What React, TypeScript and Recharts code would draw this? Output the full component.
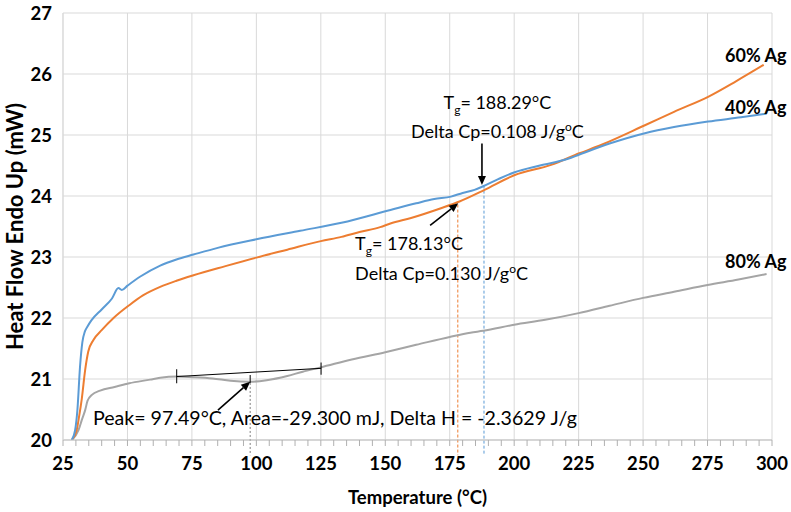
import React from 'react';
import {
  ComposedChart,
  Line,
  XAxis,
  YAxis,
  CartesianGrid,
  ReferenceLine,
  ReferenceDot,
  Label,
} from 'recharts';

const FONT = 'Lato, "Open Sans", sans-serif';

const xTicks = [25, 50, 75, 100, 125, 150, 175, 200, 225, 250, 275, 300];
const xMinorTicks = [
  25, 30, 35, 40, 45, 50, 55, 60, 65, 70, 75, 80, 85, 90, 95, 100, 105, 110, 115, 120, 125,
  130, 135, 140, 145, 150, 155, 160, 165, 170, 175, 180, 185, 190, 195, 200, 205, 210, 215,
  220, 225, 230, 235, 240, 245, 250, 255, 260, 265, 270, 275, 280, 285, 290, 295, 300,
];
const yTicks = [20, 21, 22, 23, 24, 25, 26, 27];

// 40% Ag (blue)
const ag40T = [
  28.4, 29.7, 30.6, 31.6, 32.5, 33.5, 34.5, 36, 40, 44, 46.5, 47.8, 50, 55, 62.7, 69, 75.6, 85,
  100, 117, 133, 152, 162, 169, 175.5, 180, 184.6, 188, 194, 200.2, 210, 220.9, 225.3, 237,
  250.7, 262, 275.2, 288, 297.9,
];
const ag40V = [
  20.0, 20.16, 20.5, 21.2, 21.6, 21.78, 21.86, 21.96, 22.14, 22.32, 22.49, 22.46, 22.53, 22.68,
  22.86, 22.96, 23.04, 23.15, 23.29, 23.43, 23.56, 23.77, 23.88, 23.95, 23.99, 24.05, 24.1,
  24.16, 24.28, 24.39, 24.5, 24.61, 24.68, 24.86, 25.03, 25.13, 25.22, 25.29, 25.35,
];

// 60% Ag (orange)
const ag60T = [
  28.4, 30.3, 31.3, 32.3, 33.6, 34.8, 36.8, 40, 44.6, 50.7, 56, 62.7, 69, 75.6, 88, 100, 112,
  125, 133, 140, 148, 152, 160, 171.6, 178.8, 188.5, 200, 214.3, 225.3, 233.9, 250.7, 262,
  275.4, 286, 296.8,
];
const ag60V = [
  20.0, 20.16, 20.4, 20.68, 21.15, 21.45, 21.64, 21.8, 22.0, 22.21, 22.37, 22.51, 22.61, 22.7,
  22.85, 22.99, 23.12, 23.26, 23.33, 23.41, 23.49, 23.55, 23.64, 23.8, 23.91, 24.1, 24.34,
  24.51, 24.7, 24.84, 25.16, 25.38, 25.63, 25.88, 26.15,
];

// 80% Ag (gray)
const ag80T = [
  28.4, 31, 32.3, 33.6, 34.5, 36.2, 39.4, 45, 50.7, 58.8, 62.7, 69.2, 76, 83, 90, 97.7, 104,
  112, 118, 124.9, 137, 150, 162, 175, 183, 188, 200, 212, 225, 237, 250, 262, 275, 287, 297.9,
];
const ag80V = [
  20.0, 20.16, 20.33, 20.49, 20.64, 20.74, 20.81, 20.87, 20.93, 20.99, 21.02, 21.04, 21.03,
  21.01, 20.97, 20.955, 20.98, 21.05, 21.12, 21.19, 21.32, 21.44, 21.56, 21.69, 21.76, 21.79,
  21.89, 21.97, 22.08, 22.2, 22.33, 22.43, 22.54, 22.63, 22.72,
];

// annotation anchors (data coordinates)
const baselineSeg = [
  { x: 69.1, y: 21.04 },
  { x: 125.1, y: 21.175 },
];
const baselineLeftTick = [
  { x: 69.1, y: 21.16 },
  { x: 69.1, y: 20.93 },
];
const baselineRightTick = [
  { x: 125.1, y: 21.27 },
  { x: 125.1, y: 21.07 },
];
const peakTick = [
  { x: 97.6, y: 21.065 },
  { x: 97.6, y: 20.935 },
];
const peakDrop = [
  { x: 97.6, y: 20.935 },
  { x: 97.6, y: 19.75 },
];
const tg60Drop = [
  { x: 178.13, y: 23.86 },
  { x: 178.13, y: 19.75 },
];
const tg40Drop = [
  { x: 188.29, y: 24.17 },
  { x: 188.29, y: 19.75 },
];
const peakArrow = [
  { x: 85.1, y: 20.49 },
  { x: 97.6, y: 20.956 },
];
const tg40Arrow = [
  { x: 187.5, y: 24.86 },
  { x: 187.5, y: 24.18 },
];
const tg60Arrow = [
  { x: 167.4, y: 23.52 },
  { x: 178.3, y: 23.88 },
];
const peakTextAt = { x: 36.6, y: 20.246 };
const tg40Line1At = { x: 193.5, y: 25.434 };
const tg40Line2At = { x: 193.5, y: 24.95 };
const tg60Line1At = { x: 138.3, y: 23.11 };
const tg60Line2At = { x: 138.3, y: 22.62 };
const seriesLabelX = 281.8;
const label60Y = 26.198;
const label40Y = 25.352;
const label80Y = 22.813;

const zip = (xs: number[], ys: number[]) => xs.map((x, i) => ({ x, y: ys[i] }));
const data40 = zip(ag40T, ag40V);
const data60 = zip(ag60T, ag60V);
const data80 = zip(ag80T, ag80V);

const BLUE = '#5B9BD5';
const ORANGE = '#ED7D31';
const GRAY = '#A5A5A5';

const ArrowShape = (p: any) => {
  const { x1, y1, x2, y2 } = p;
  const dx = x2 - x1;
  const dy = y2 - y1;
  const len = Math.hypot(dx, dy) || 1;
  const ux = dx / len;
  const uy = dy / len;
  const head = 9;
  const half = 4;
  const bx = x2 - ux * head;
  const by = y2 - uy * head;
  const px = -uy;
  const py = ux;
  return (
    <g>
      <line x1={x1} y1={y1} x2={bx} y2={by} stroke="#000" strokeWidth={1.6} />
      <polygon
        points={`${x2},${y2} ${bx + px * half},${by + py * half} ${bx - px * half},${by - py * half}`}
        fill="#000"
      />
    </g>
  );
};

const textStyle = { fontFamily: FONT, fontSize: 18, fill: '#000' };
const peakStyle = { fontFamily: FONT, fontSize: 19.6, fill: '#000' };

const makeText = (content: React.ReactNode, anchor: 'start' | 'middle' | 'end' = 'start', style: any = textStyle) =>
  (p: any) => (
    <text x={p.cx} y={p.cy} textAnchor={anchor} style={style}>
      {content}
    </text>
  );

const tgLine = (value: string) => (
  <>
    <tspan>T</tspan>
    <tspan fontSize={12} dy={5}>g</tspan>
    <tspan dy={-5}>{`= ${value}°C`}</tspan>
  </>
);

const cpLine = (value: string) => (
  <>
    <tspan>{`Delta Cp=${value} J/g`}</tspan>
    <tspan fontSize={12} dy={-7}>o</tspan>
    <tspan dy={7}>C</tspan>
  </>
);

const seriesStyle = { fontFamily: FONT, fontSize: 18, fontWeight: 700, fill: '#000' };
const tickFont = { fontFamily: FONT, fontSize: 18.5, fontWeight: 700, fill: '#000' };

const XTick = (p: any) => {
  const v = p.payload?.value;
  if (!xTicks.includes(v)) return <g />;
  return (
    <text x={p.x} y={p.y} dy="0.71em" textAnchor="middle" style={tickFont}>
      {v}
    </text>
  );
};

export default function App() {
  return (
    <div style={{ position: 'absolute', left: 0, top: 0, width: 791, height: 512, background: '#fff' }}>
      <ComposedChart
        width={791}
        height={512}
        margin={{ top: 13, right: 19, bottom: 0, left: 0 }}
        style={{ fontFamily: FONT }}
      >
        <XAxis
          type="number"
          dataKey="x"
          domain={[25, 300]}
          ticks={xMinorTicks}
          allowDataOverflow
          height={72}
          stroke="#B0B0B0"
          axisLine={{ stroke: '#BFBFBF', strokeWidth: 1 }}
          tickLine={{ stroke: '#B0B0B0', strokeWidth: 1 }}
          tickSize={6}
          tickMargin={11}
          interval={0}
          tick={XTick}
        >
          <Label
            value="Temperature (°C)"
            position="insideBottom"
            offset={8}
            style={{ fontFamily: FONT, fontSize: 18.5, fontWeight: 700, fill: '#000' }}
          />
        </XAxis>
        <XAxis
          xAxisId="grid"
          type="number"
          dataKey="x"
          domain={[25, 300]}
          ticks={xTicks}
          allowDataOverflow
          hide
          interval={0}
        />
        <YAxis
          type="number"
          domain={[20, 27]}
          ticks={yTicks}
          allowDataOverflow
          width={63}
          axisLine={{ stroke: '#D9D9D9', strokeWidth: 1 }}
          tickLine={false}
          tickSize={0}
          tickMargin={11}
          interval={0}
          tick={tickFont}
        >
          <Label
            value="Heat Flow Endo Up (mW)"
            angle={-90}
            position="insideLeft"
            offset={15}
            style={{ fontFamily: FONT, fontSize: 22, fontWeight: 700, fill: '#000', textAnchor: 'middle' }}
          />
        </YAxis>
        <CartesianGrid xAxisId="grid" stroke="#D9D9D9" strokeWidth={1} />

        <ReferenceLine segment={tg60Drop} stroke={ORANGE} strokeDasharray="3 2" strokeWidth={1} ifOverflow="visible" />
        <ReferenceLine segment={tg40Drop} stroke={BLUE} strokeDasharray="3 2" strokeWidth={1} ifOverflow="visible" />
        <ReferenceLine segment={peakDrop} stroke="#7F7F7F" strokeDasharray="2 2" strokeWidth={1} ifOverflow="visible" />

        <Line data={data80} dataKey="y" type="monotone" stroke={GRAY} strokeWidth={2} dot={false} isAnimationActive={false} />
        <Line data={data60} dataKey="y" type="monotone" stroke={ORANGE} strokeWidth={2} dot={false} isAnimationActive={false} />
        <Line data={data40} dataKey="y" type="monotone" stroke={BLUE} strokeWidth={2} dot={false} isAnimationActive={false} />

        <ReferenceLine segment={baselineSeg} stroke="#000" strokeWidth={1} ifOverflow="visible" />
        <ReferenceLine segment={baselineLeftTick} stroke="#000" strokeWidth={1} ifOverflow="visible" />
        <ReferenceLine segment={baselineRightTick} stroke="#000" strokeWidth={1} ifOverflow="visible" />
        <ReferenceLine segment={peakTick} stroke="#000" strokeWidth={1} ifOverflow="visible" />

        <ReferenceLine segment={peakArrow} ifOverflow="visible" shape={ArrowShape} />
        <ReferenceLine segment={tg40Arrow} ifOverflow="visible" shape={ArrowShape} />
        <ReferenceLine segment={tg60Arrow} ifOverflow="visible" shape={ArrowShape} />

        <ReferenceDot
          x={peakTextAt.x}
          y={peakTextAt.y}
          ifOverflow="visible"
          shape={makeText('Peak= 97.49°C, Area=-29.300 mJ, Delta H = -2.3629 J/g', 'start', peakStyle)}
        />
        <ReferenceDot x={tg40Line1At.x} y={tg40Line1At.y} ifOverflow="visible" shape={makeText(tgLine('188.29'), 'middle')} />
        <ReferenceDot x={tg40Line2At.x} y={tg40Line2At.y} ifOverflow="visible" shape={makeText(cpLine('0.108'), 'middle')} />
        <ReferenceDot x={tg60Line1At.x} y={tg60Line1At.y} ifOverflow="visible" shape={makeText(tgLine('178.13'))} />
        <ReferenceDot x={tg60Line2At.x} y={tg60Line2At.y} ifOverflow="visible" shape={makeText(cpLine('0.130'))} />

        <ReferenceDot x={seriesLabelX} y={label60Y} ifOverflow="visible" shape={makeText('60% Ag', 'start', seriesStyle)} />
        <ReferenceDot x={seriesLabelX} y={label40Y} ifOverflow="visible" shape={makeText('40% Ag', 'start', seriesStyle)} />
        <ReferenceDot x={seriesLabelX} y={label80Y} ifOverflow="visible" shape={makeText('80% Ag', 'start', seriesStyle)} />
      </ComposedChart>
    </div>
  );
}
